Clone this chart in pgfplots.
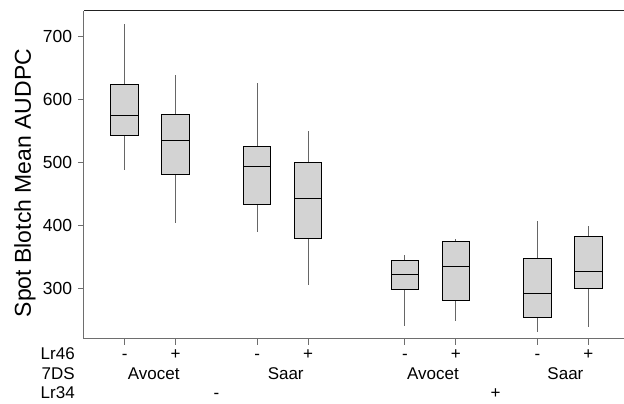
\documentclass[border=0pt]{standalone}
\usepackage{pgfplots}
\pgfplotsset{compat=1.18}
\usepgfplotslibrary{statistics}
\usepackage{fontspec}
\setmainfont{Liberation Sans}
\definecolor{boxfill}{HTML}{D3D3D3}
\definecolor{whisk}{HTML}{666666}
\definecolor{axgray}{HTML}{6E6E6E}
\definecolor{topline}{HTML}{222222}
\begin{document}
\fontsize{17}{20}\selectfont
\begin{tikzpicture}
\begin{axis}[
  scale only axis, width=540pt, height=328pt,
  xmin=-0.8, xmax=9.79, ymin=221, ymax=741,
  axis x line*=bottom, axis y line*=left,
  axis line style={axgray, line width=1pt, -},
  ytick={300,400,500,600,700},
  xtick={0,1,2.6,3.6,5.5,6.5,8.1,9.1},
  xticklabels={},
  tick style={axgray, line width=0.9pt},
  tick align=outside, major tick length=6pt,
  yticklabel style={font=\fontsize{17.5}{20}\selectfont},
  /pgf/number format/assume math mode=true,
  clip=false,
  boxplot/draw direction=y,
  boxplot/box extend=0.54,
  boxplot/whisker extend=0,
  boxplot/every whisker/.style={whisk, line width=1pt},
  boxplot/every box/.style={draw=black, fill=boxfill, line width=1pt},
  boxplot/every median/.style={black, line width=1pt},
]
\addplot[black, boxplot prepared={draw position=0, lower whisker=488, lower quartile=544, median=575, upper quartile=624, upper whisker=721}] coordinates {};
\addplot[black, boxplot prepared={draw position=1, lower whisker=405, lower quartile=482, median=535, upper quartile=577, upper whisker=639}] coordinates {};
\addplot[black, boxplot prepared={draw position=2.6, lower whisker=391, lower quartile=434, median=495, upper quartile=526, upper whisker=627}] coordinates {};
\addplot[black, boxplot prepared={draw position=3.6, lower whisker=306, lower quartile=380, median=443, upper quartile=501, upper whisker=550}] coordinates {};
\addplot[black, boxplot prepared={draw position=5.5, lower whisker=241, lower quartile=299, median=323, upper quartile=345, upper whisker=354}] coordinates {};
\addplot[black, boxplot prepared={draw position=6.5, lower whisker=249, lower quartile=281, median=335, upper quartile=376, upper whisker=380}] coordinates {};
\addplot[black, boxplot prepared={draw position=8.1, lower whisker=232, lower quartile=254, median=293, upper quartile=348, upper whisker=408}] coordinates {};
\addplot[black, boxplot prepared={draw position=9.1, lower whisker=239, lower quartile=300, median=328, upper quartile=383, upper whisker=400}] coordinates {};

\draw[topline, line width=1pt] (rel axis cs:0,1) -- (rel axis cs:1,1);

% y label
\node[xshift=-53pt, rotate=90, anchor=base, inner sep=0pt, font=\fontsize{23}{26}\selectfont] at (rel axis cs:0,0.475) {Spot Blotch Mean AUDPC};

% row labels
\node[anchor=base east, inner sep=0pt] at (rel axis cs:0,0) [xshift=-9pt, yshift=-21pt] {Lr46};
\node[anchor=base east, inner sep=0pt] at (rel axis cs:0,0) [xshift=-9pt, yshift=-41pt] {7DS};
\node[anchor=base east, inner sep=0pt] at (rel axis cs:0,0) [xshift=-9pt, yshift=-60pt] {Lr34};

% Lr46 signs
\node[anchor=base, inner sep=0pt] at (axis cs:0,221) [yshift=-21pt] {-};
\node[anchor=base, inner sep=0pt] at (axis cs:1,221) [yshift=-21pt] {+};
\node[anchor=base, inner sep=0pt] at (axis cs:2.6,221) [yshift=-21pt] {-};
\node[anchor=base, inner sep=0pt] at (axis cs:3.6,221) [yshift=-21pt] {+};
\node[anchor=base, inner sep=0pt] at (axis cs:5.5,221) [yshift=-21pt] {-};
\node[anchor=base, inner sep=0pt] at (axis cs:6.5,221) [yshift=-21pt] {+};
\node[anchor=base, inner sep=0pt] at (axis cs:8.1,221) [yshift=-21pt] {-};
\node[anchor=base, inner sep=0pt] at (axis cs:9.1,221) [yshift=-21pt] {+};
% 7DS
\node[anchor=base, inner sep=0pt] at (axis cs:0.57,221) [yshift=-41pt] {Avocet};
\node[anchor=base, inner sep=0pt] at (axis cs:3.16,221) [yshift=-41pt] {Saar};
\node[anchor=base, inner sep=0pt] at (axis cs:6.05,221) [yshift=-41pt] {Avocet};
\node[anchor=base, inner sep=0pt] at (axis cs:8.65,221) [yshift=-41pt] {Saar};
% Lr34
\node[anchor=base, inner sep=0pt] at (axis cs:1.80,221) [yshift=-60pt] {-};
\node[anchor=base, inner sep=0pt] at (axis cs:7.28,221) [yshift=-60pt] {+};
\end{axis}
\path[use as bounding box] (-84pt,-65pt) rectangle (540pt,339pt);
\end{tikzpicture}
\end{document}
